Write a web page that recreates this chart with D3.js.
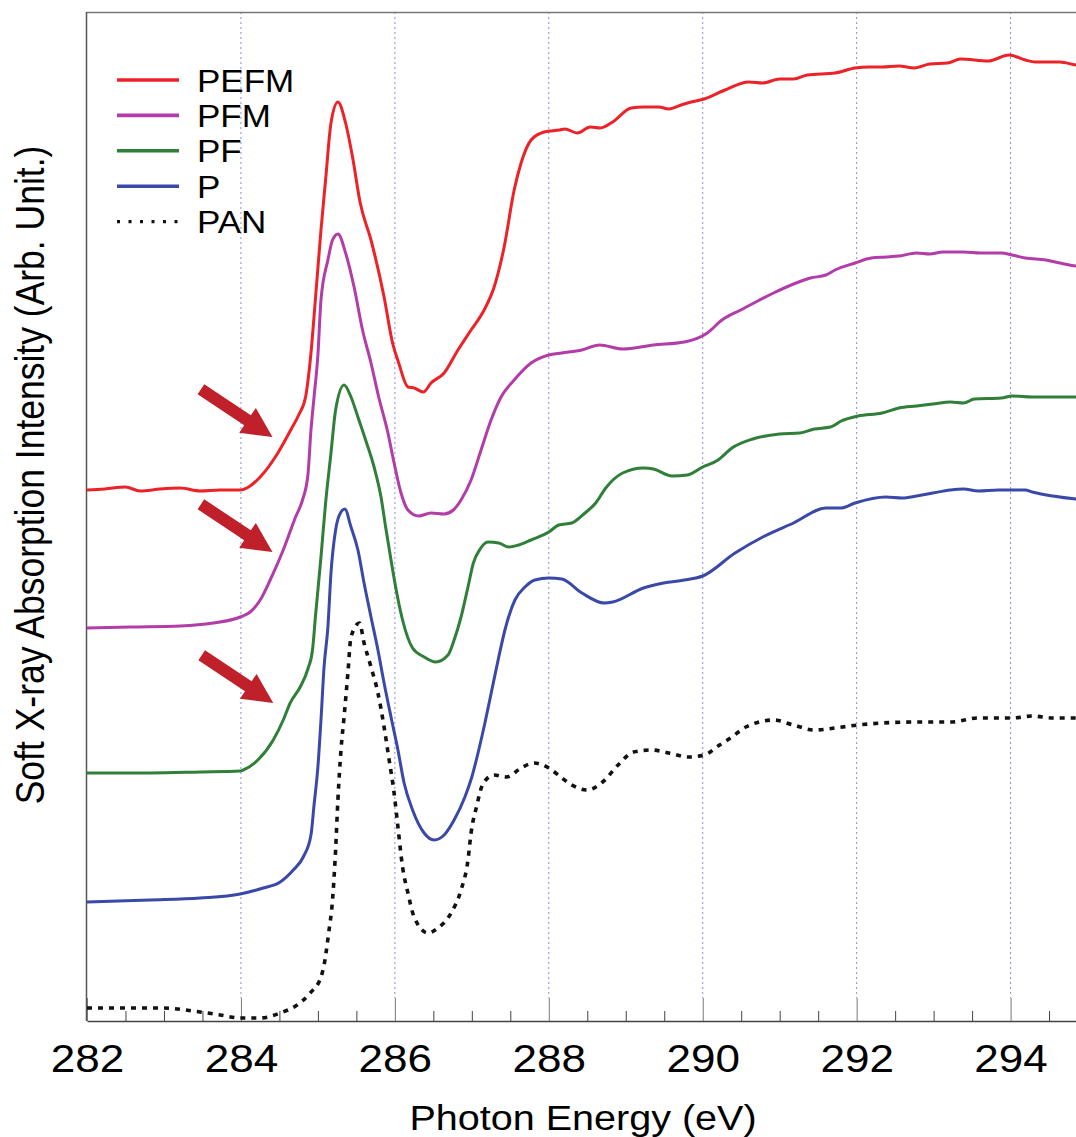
<!DOCTYPE html>
<html>
<head>
<meta charset="utf-8">
<script src="https://cdn.jsdelivr.net/npm/d3@7"></script>
<style>
  body { margin: 0; background: #fff; }
  svg { display: block; font-family: "Liberation Sans", Arial, sans-serif; }
</style>
</head>
<body>
<script>
// C K-edge NEXAFS spectra, intensity in arb. units (curves offset vertically)

const seriesNames = ['PEFM', 'PFM', 'PF', 'P', 'PAN'];
const seriesColors = ['#ec2228', '#b23ca8', '#2f7f38', '#3a48a8', '#111'];

const pefmEnergy = [282.00,282.23,282.50,282.69,282.95,283.21,283.47,283.73,283.99,284.10,284.25,284.48,284.64,284.75,284.84,284.88,284.91,284.97,285.04,285.10,285.17,285.26,285.36,285.45,285.55,285.69,285.86,285.97,286.05,286.17,286.25,286.37,286.47,286.64,286.82,286.99,287.16,287.29,287.42,287.55,287.64,287.77,287.94,288.14,288.21,288.37,288.54,288.67,288.83,289.07,289.23,289.43,289.56,289.72,289.85,290.02,290.29,290.60,290.78,291.00,291.18,291.36,291.72,291.98,292.16,292.33,292.55,292.75,292.95,293.18,293.35,293.71,293.98,294.19,294.32,294.64,294.85,295.00];
const pefmIntensity = [5.31,5.32,5.34,5.30,5.32,5.33,5.30,5.31,5.31,5.34,5.44,5.68,5.90,6.06,6.24,6.46,6.68,7.24,7.91,8.41,8.98,9.19,8.98,8.64,8.18,7.81,7.24,6.78,6.58,6.34,6.33,6.29,6.38,6.48,6.71,6.91,7.11,7.34,7.74,8.31,8.58,8.81,8.89,8.91,8.92,8.88,8.94,8.93,8.99,9.13,9.14,9.14,9.12,9.16,9.19,9.22,9.31,9.39,9.38,9.42,9.42,9.46,9.48,9.53,9.54,9.54,9.55,9.53,9.57,9.58,9.62,9.60,9.66,9.61,9.59,9.59,9.56,9.55];

const pfmEnergy = [282.00,282.56,283.21,283.64,283.99,284.12,284.25,284.38,284.55,284.71,284.80,284.87,284.91,284.95,285.00,285.04,285.13,285.19,285.26,285.36,285.47,285.58,285.69,285.79,285.91,285.99,286.08,286.17,286.31,286.47,286.64,286.76,286.86,286.99,287.12,287.25,287.38,287.55,287.77,288.00,288.17,288.43,288.66,288.96,289.36,289.76,290.06,290.25,290.52,290.69,290.92,291.18,291.40,291.60,291.72,291.98,292.19,292.38,292.55,292.78,292.95,293.12,293.39,293.61,293.88,294.02,294.19,294.46,294.64,294.85,295.00];
const pfmIntensity = [3.93,3.94,3.95,3.98,4.04,4.09,4.21,4.41,4.71,5.04,5.21,5.46,5.91,6.24,6.66,7.21,7.61,7.81,7.87,7.68,7.34,6.91,6.58,6.24,5.88,5.58,5.28,5.11,5.05,5.08,5.07,5.11,5.21,5.41,5.71,6.01,6.24,6.41,6.58,6.66,6.68,6.71,6.76,6.72,6.76,6.79,6.88,7.01,7.12,7.19,7.28,7.37,7.43,7.46,7.51,7.58,7.63,7.64,7.65,7.68,7.67,7.69,7.69,7.68,7.68,7.66,7.63,7.61,7.58,7.55,7.54];

const pfEnergy = [282.00,282.82,283.47,283.99,284.03,284.22,284.42,284.55,284.64,284.77,284.87,284.93,284.97,285.04,285.10,285.17,285.23,285.34,285.43,285.52,285.62,285.73,285.82,285.88,285.95,286.01,286.10,286.23,286.38,286.53,286.69,286.77,286.86,286.95,287.02,287.10,287.21,287.35,287.48,287.61,287.77,288.00,288.13,288.30,288.47,288.61,288.74,288.96,289.23,289.36,289.60,289.80,290.00,290.20,290.38,290.65,291.00,291.26,291.45,291.66,291.80,292.02,292.33,292.55,292.78,292.99,293.22,293.39,293.53,293.88,294.02,294.28,294.59,294.85,295.00];
const pfIntensity = [2.48,2.48,2.49,2.50,2.51,2.61,2.81,3.01,3.18,3.34,3.52,3.71,4.06,4.64,5.18,5.68,6.11,6.36,6.24,6.04,5.81,5.54,5.24,4.94,4.61,4.34,4.01,3.73,3.64,3.59,3.66,3.81,4.04,4.34,4.58,4.71,4.79,4.78,4.74,4.76,4.81,4.89,4.96,4.98,5.08,5.18,5.33,5.48,5.53,5.52,5.45,5.46,5.54,5.61,5.73,5.82,5.87,5.88,5.92,5.94,6.00,6.05,6.08,6.13,6.15,6.17,6.19,6.18,6.22,6.23,6.25,6.24,6.24,6.24,6.24];

const pEnergy = [282.00,282.82,283.47,283.99,284.29,284.51,284.68,284.81,284.91,284.95,285.00,285.04,285.08,285.13,285.17,285.23,285.30,285.35,285.43,285.52,285.60,285.69,285.78,285.86,285.95,286.04,286.12,286.23,286.38,286.51,286.64,286.77,286.91,287.00,287.09,287.17,287.26,287.35,287.43,287.56,287.69,287.82,288.00,288.17,288.43,288.72,288.83,289.23,289.49,289.76,290.00,290.42,290.78,291.18,291.60,291.80,291.98,292.38,292.59,292.78,292.99,293.22,293.39,293.58,293.84,294.19,294.28,294.55,294.85,295.00];
const pIntensity = [1.19,1.21,1.23,1.27,1.33,1.39,1.51,1.64,1.86,2.16,2.54,3.01,3.54,3.94,4.48,4.91,5.09,5.12,4.94,4.71,4.38,4.04,3.71,3.38,3.04,2.71,2.38,2.11,1.88,1.81,1.86,2.01,2.24,2.44,2.71,2.98,3.31,3.64,3.91,4.21,4.34,4.41,4.43,4.42,4.28,4.18,4.19,4.33,4.38,4.41,4.45,4.68,4.84,4.98,5.13,5.13,5.18,5.24,5.23,5.25,5.28,5.31,5.32,5.30,5.31,5.31,5.29,5.25,5.22,5.21];

const panEnergy = [282.00,282.95,283.47,283.73,283.99,284.25,284.51,284.73,284.90,285.04,285.08,285.14,285.19,285.23,285.26,285.30,285.34,285.39,285.43,285.54,285.60,285.69,285.78,285.86,285.92,285.99,286.04,286.10,286.17,286.25,286.43,286.56,286.73,286.86,286.95,286.99,287.06,287.15,287.29,287.45,287.64,287.81,288.00,288.17,288.30,288.50,288.70,288.90,289.10,289.34,289.56,289.82,290.02,290.22,290.36,290.56,290.92,291.18,291.45,291.72,292.02,292.33,292.78,293.22,293.58,294.02,294.28,294.55,294.85,295.00];
const panIntensity = [0.13,0.13,0.09,0.06,0.03,0.03,0.08,0.16,0.28,0.44,0.56,0.88,1.21,1.71,2.21,2.71,3.04,3.48,3.84,3.98,3.78,3.54,3.28,2.94,2.64,2.28,1.94,1.54,1.28,1.04,0.88,0.93,1.08,1.31,1.61,1.88,2.14,2.38,2.46,2.44,2.53,2.58,2.53,2.43,2.36,2.31,2.39,2.56,2.69,2.71,2.68,2.64,2.66,2.76,2.83,2.94,3.01,2.96,2.91,2.93,2.96,2.98,2.99,2.99,3.03,3.03,3.05,3.03,3.03,3.02];

const majorTicks = [282, 284, 286, 288, 290, 292, 294];
// shoulder positions marked by arrows (PEFM, PFM, PF)
const arrowEnergy = [284.41, 284.41, 284.42];
const arrowIntensity = [5.84, 4.69, 3.18];

const series = [
  { name: 'PEFM', e: pefmEnergy, v: pefmIntensity },
  { name: 'PFM', e: pfmEnergy, v: pfmIntensity },
  { name: 'PF', e: pfEnergy, v: pfIntensity },
  { name: 'P', e: pEnergy, v: pIntensity },
  { name: 'PAN', e: panEnergy, v: panIntensity }
];

const W = 1076, H = 1137;
const plotLeft = 87, plotRight = 1076, plotTop = 12, plotBottom = 1021;
const stretch = 1.13; // reference text is a little wider than tall

const svg = d3.select('body').append('svg')
  .attr('width', W)
  .attr('height', H);

const x = d3.scaleLinear().domain([282, 294.85]).range([plotLeft, plotRight]);
const y = d3.scaleLinear().domain([0, 10.09]).range([plotBottom, plotTop]);

svg.append('defs').append('clipPath').attr('id', 'plotclip')
  .append('rect')
  .attr('x', plotLeft).attr('y', plotTop)
  .attr('width', plotRight - plotLeft).attr('height', plotBottom - plotTop);

// dotted grid at the major ticks
svg.append('g').selectAll('line')
  .data(majorTicks.filter(d => d > 282))
  .join('line')
  .attr('x1', d => x(d)).attr('x2', d => x(d))
  .attr('y1', plotTop).attr('y2', plotBottom - 23)
  .attr('stroke', '#8c8ce0')
  .attr('stroke-width', 1)
  .attr('stroke-dasharray', '2,3');

// frame: top and left
svg.append('line')
  .attr('x1', plotLeft).attr('x2', plotRight)
  .attr('y1', plotTop + 0.5).attr('y2', plotTop + 0.5)
  .attr('stroke', '#777').attr('stroke-width', 1.5);
svg.append('line')
  .attr('x1', plotLeft - 0.5).attr('x2', plotLeft - 0.5)
  .attr('y1', plotTop).attr('y2', plotBottom)
  .attr('stroke', '#555').attr('stroke-width', 1.5);

// minor ticks every 0.5 eV
const minorTicks = d3.range(282.5, 295, 0.5).filter(d => !majorTicks.includes(d));
svg.append('g')
  .attr('transform', `translate(0,${plotBottom})`)
  .call(d3.axisBottom(x).tickValues(minorTicks).tickSize(-10).tickSizeOuter(0).tickFormat(''))
  .call(g => g.select('.domain').remove())
  .call(g => g.selectAll('line').attr('stroke', '#444'));

// major ticks and labels
const xAxis = svg.append('g')
  .attr('transform', `translate(0,${plotBottom})`)
  .call(d3.axisBottom(x).tickValues(majorTicks).tickSize(-23).tickSizeOuter(0).tickFormat(d3.format('d')));
xAxis.select('.domain').attr('stroke', '#444').attr('stroke-width', 1.5);
xAxis.selectAll('line').attr('stroke', '#777');
xAxis.selectAll('text')
  .attr('y', 51)
  .attr('dy', null)
  .attr('transform', `scale(${stretch},1)`)
  .attr('x', 0)
  .attr('font-family', '"Liberation Sans", Arial, sans-serif')
  .attr('font-size', 39)
  .attr('fill', '#000');

// axis titles
svg.append('text')
  .attr('transform', `translate(583,1130) scale(${stretch},1)`)
  .attr('text-anchor', 'middle')
  .attr('font-size', 35)
  .text('Photon Energy (eV)');

svg.append('text')
  .attr('transform', `translate(44,475) rotate(-90) scale(1,${stretch})`)
  .attr('text-anchor', 'middle')
  .attr('font-size', 35.5)
  .text('Soft X-ray Absorption Intensity (Arb. Unit.)');

// spectra
const line = d3.line()
  .x(d => x(d[0]))
  .y(d => y(d[1]))
  .curve(d3.curveMonotoneX);

const curves = svg.append('g').attr('clip-path', 'url(#plotclip)');
series.slice().reverse().forEach(s => {
  const i = seriesNames.indexOf(s.name);
  curves.append('path')
    .datum(d3.zip(s.e, s.v))
    .attr('d', line)
    .attr('fill', 'none')
    .attr('stroke', seriesColors[i])
    .attr('stroke-width', s.name === 'PAN' ? 3.6 : 3)
    .attr('stroke-dasharray', s.name === 'PAN' ? '5,6' : null)
    .attr('stroke-linejoin', 'round');
});

// arrows pointing at the pre-edge shoulders
const arrowLen = 86, headLen = 30, headHalf = 15, shaftHalf = 6;
const angle = Math.atan2(48, 72) * 180 / Math.PI;
const arrowShape = [
  [0, -shaftHalf], [arrowLen - headLen, -shaftHalf], [arrowLen - headLen, -headHalf],
  [arrowLen, 0],
  [arrowLen - headLen, headHalf], [arrowLen - headLen, shaftHalf], [0, shaftHalf]
];
svg.append('g').selectAll('polygon')
  .data(d3.zip(arrowEnergy, arrowIntensity))
  .join('polygon')
  .attr('points', arrowShape.map(p => p.join(',')).join(' '))
  .attr('transform', d => `translate(${x(d[0])},${y(d[1])}) rotate(${angle}) translate(${-arrowLen},0)`)
  .attr('fill', '#c0202a');

// legend
const legend = svg.append('g').attr('transform', 'translate(117,80)');
const rowH = 35.4;
seriesNames.forEach((name, i) => {
  legend.append('line')
    .attr('x1', 0).attr('x2', 62)
    .attr('y1', i * rowH).attr('y2', i * rowH)
    .attr('stroke', seriesColors[i])
    .attr('stroke-width', name === 'PAN' ? 3.4 : 3.6)
    .attr('stroke-dasharray', name === 'PAN' ? '3,8.5' : null);
  legend.append('text')
    .attr('transform', `translate(80,${i * rowH + 11.5}) scale(${stretch},1)`)
    .attr('font-size', 31)
    .text(name);
});
</script>
</body>
</html>
